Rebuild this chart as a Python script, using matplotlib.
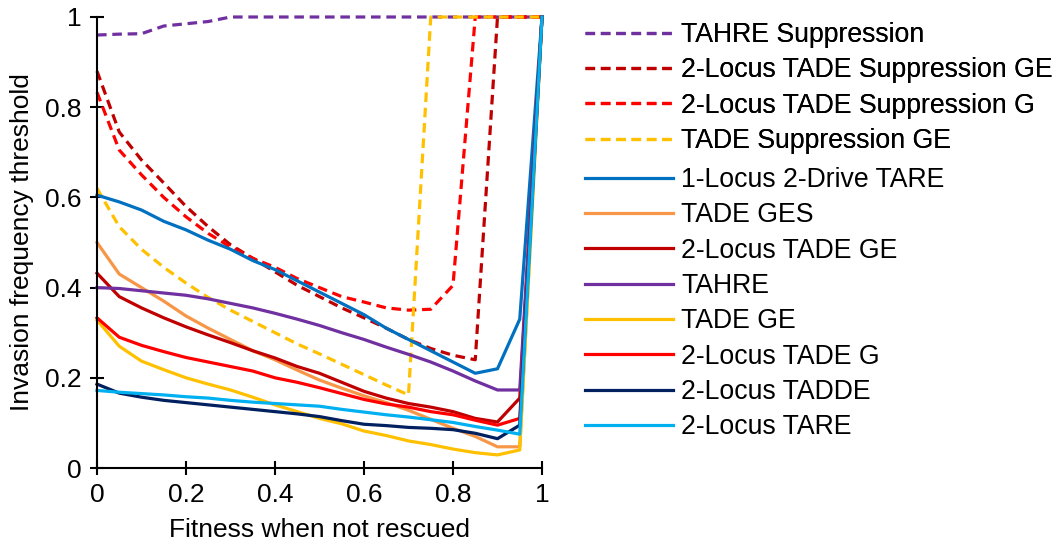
import matplotlib
matplotlib.use("Agg")
import matplotlib.pyplot as plt

plt.rcParams['font.family'] = ['Liberation Sans', 'DejaVu Sans']

x = [0, 0.05, 0.1, 0.15, 0.2, 0.25, 0.3, 0.35, 0.4, 0.45, 0.5,
     0.55, 0.6, 0.65, 0.7, 0.75, 0.8, 0.85, 0.9, 0.95, 1]

tahre_supp = [0.96, 0.962, 0.963, 0.98, 0.985, 0.99, 1, 1, 1, 1, 1,
              1, 1, 1, 1, 1, 1, 1, 1, 1, 1]
l2_tade_supp_ge = [0.88, 0.745, 0.683, 0.632, 0.58, 0.535, 0.495, 0.465, 0.435, 0.405, 0.38,
                   0.355, 0.333, 0.31, 0.285, 0.265, 0.25, 0.24, 1, 1, 1]
l2_tade_supp_g = [0.833, 0.705, 0.65, 0.6, 0.557, 0.52, 0.49, 0.465, 0.445, 0.42, 0.40,
                  0.38, 0.368, 0.355, 0.35, 0.352, 0.405, 1, 1, 1, 1]
tade_supp_ge = [0.62, 0.535, 0.485, 0.445, 0.41, 0.378, 0.35, 0.325, 0.30, 0.275, 0.253,
                0.23, 0.207, 0.184, 0.162, 1, 1, 1, 1, 1, 1]
l1_2drive_tare = [0.605, 0.59, 0.572, 0.547, 0.528, 0.505, 0.485, 0.46, 0.44, 0.415, 0.39,
                  0.365, 0.34, 0.31, 0.285, 0.26, 0.235, 0.21, 0.22, 0.33, 1]
tade_ges = [0.50, 0.43, 0.40, 0.37, 0.337, 0.31, 0.285, 0.26, 0.24, 0.217, 0.195,
            0.177, 0.16, 0.145, 0.128, 0.108, 0.088, 0.07, 0.047, 0.047, 1]
l2_tade_ge = [0.432, 0.38, 0.355, 0.333, 0.313, 0.295, 0.278, 0.26, 0.244, 0.225, 0.21,
              0.19, 0.17, 0.155, 0.143, 0.135, 0.125, 0.11, 0.102, 0.155, 1]
tahre = [0.40, 0.398, 0.393, 0.388, 0.383, 0.375, 0.365, 0.355, 0.343, 0.33, 0.316,
         0.30, 0.285, 0.268, 0.252, 0.235, 0.215, 0.193, 0.173, 0.173, 1]
tade_ge = [0.328, 0.27, 0.237, 0.218, 0.2, 0.186, 0.173, 0.157, 0.14, 0.125, 0.11,
           0.098, 0.082, 0.072, 0.06, 0.052, 0.042, 0.034, 0.029, 0.04, 1]
l2_tade_g = [0.333, 0.29, 0.272, 0.258, 0.245, 0.235, 0.225, 0.215, 0.2, 0.19, 0.178,
             0.165, 0.152, 0.142, 0.135, 0.125, 0.118, 0.106, 0.095, 0.11, 1]
l2_tadde = [0.186, 0.166, 0.157, 0.15, 0.145, 0.14, 0.135, 0.13, 0.125, 0.12, 0.114,
            0.105, 0.097, 0.094, 0.09, 0.088, 0.085, 0.077, 0.065, 0.095, 1]
l2_tare = [0.172, 0.168, 0.165, 0.162, 0.158, 0.155, 0.15, 0.146, 0.143, 0.14, 0.137,
           0.13, 0.124, 0.118, 0.113, 0.107, 0.101, 0.092, 0.084, 0.075, 1]

dashed_series = [
    ("TAHRE Suppression", tahre_supp, "#7030A0"),
    ("2-Locus TADE Suppression GE", l2_tade_supp_ge, "#C00000"),
    ("2-Locus TADE Suppression G", l2_tade_supp_g, "#FF0000"),
    ("TADE Suppression GE", tade_supp_ge, "#FFC000"),
]
solid_series = [
    ("1-Locus 2-Drive TARE", l1_2drive_tare, "#0070C0"),
    ("TADE GES", tade_ges, "#F79646"),
    ("2-Locus TADE GE", l2_tade_ge, "#C00000"),
    ("TAHRE", tahre, "#7030A0"),
    ("TADE GE", tade_ge, "#FFC000"),
    ("2-Locus TADE G", l2_tade_g, "#FF0000"),
    ("2-Locus TADDE", l2_tadde, "#002060"),
    ("2-Locus TARE", l2_tare, "#00B0F0"),
]

fig = plt.figure(figsize=(10.56, 5.5), dpi=100)
ax = fig.add_axes([97 / 1056, 1 - 468 / 550, (542 - 97) / 1056, (468 - 17) / 550])

lw = 2.3
dash = (3.0, 1.8)
h1 = []
for name, ys, c in dashed_series:
    ln, = ax.plot(x, ys, color=c, lw=lw, dashes=dash, clip_on=False, label=name)
    h1.append(ln)
h2 = []
for name, ys, c in solid_series:
    ln, = ax.plot(x, ys, color=c, lw=lw, clip_on=False, label=name)
    h2.append(ln)

ax.set_xlim(0, 1)
ax.set_ylim(0, 1)
ax.set_xticks([0, 0.2, 0.4, 0.6, 0.8, 1])
ax.set_xticklabels(["0", "0.2", "0.4", "0.6", "0.8", "1"])
ax.set_yticks([0, 0.2, 0.4, 0.6, 0.8, 1])
ax.set_yticklabels(["0", "0.2", "0.4", "0.6", "0.8", "1"])
for s in ["top", "right"]:
    ax.spines[s].set_visible(False)
for s in ["left", "bottom"]:
    ax.spines[s].set_linewidth(1.5)
ax.tick_params(direction="inout", length=10, width=1.5, labelsize=19, pad=6)
ax.set_xlabel("Fitness when not rescued", fontsize=19, labelpad=8)
ax.set_ylabel("Invasion frequency threshold", fontsize=19, labelpad=8)

legkw = dict(loc="upper left", frameon=False, fontsize=19.2, handlelength=3.3,
             handletextpad=0.3, labelspacing=0.35, borderaxespad=0, borderpad=0)
leg1 = fig.legend(handles=h1, bbox_to_anchor=(585 / 1056, 1 - 22 / 550), **legkw)
fig.add_artist(leg1)
leg2 = fig.legend(handles=h2, bbox_to_anchor=(585 / 1056, 1 - 167 / 550), **legkw)

fig.savefig("out.png", dpi=100)
